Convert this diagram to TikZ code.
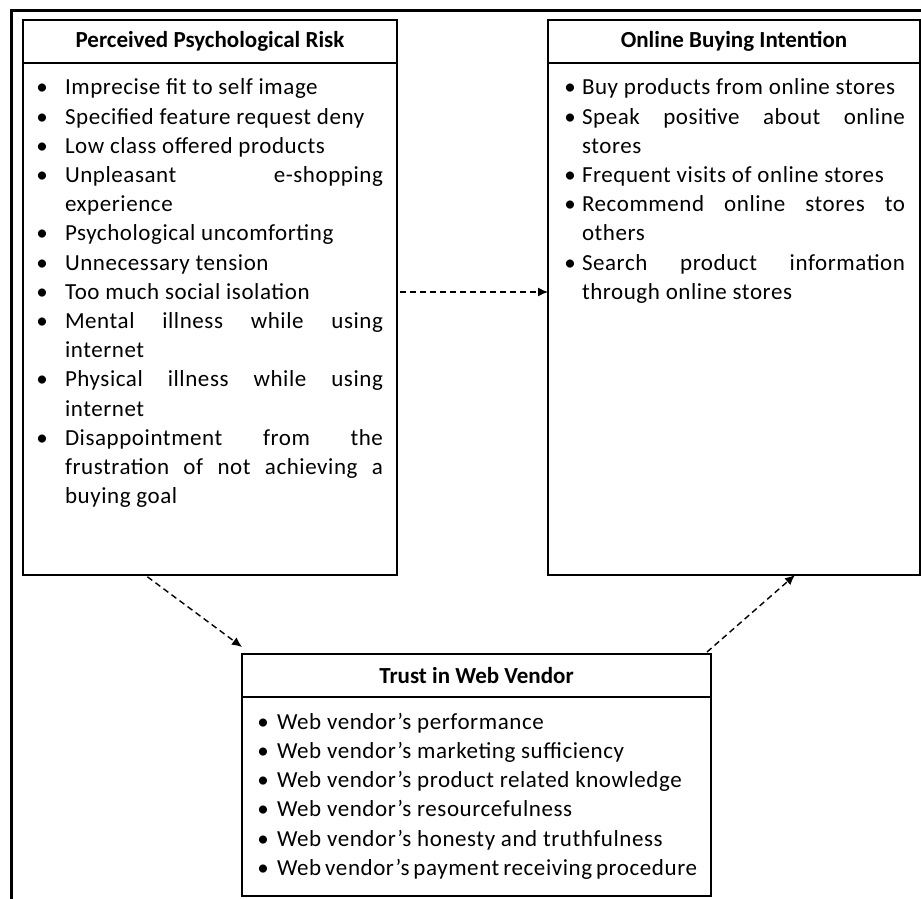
\documentclass[tikz,border=0pt]{standalone}
\usepackage{fontspec}
\setmainfont{Carlito}
\usetikzlibrary{arrows.meta,positioning}

% list with the bullet centred #2 before the text
\newenvironment{dotlist}[2]{\begin{list}{\hbox to 0pt{\hss\textbullet\hss}}{%
  \setlength{\leftmargin}{#1}\setlength{\labelsep}{#2}%
  \setlength{\labelwidth}{\dimexpr#1-#2\relax}\setlength{\itemindent}{0pt}%
  \setlength{\itemsep}{0pt}\setlength{\parsep}{0pt}\setlength{\topsep}{0pt}%
  \setlength{\partopsep}{0pt}\setlength{\rightmargin}{0pt}}}{\end{list}}
% body of a box: width, height, list items
\newcommand{\boxtext}[3]{\parbox[c][#2][t]{#1}{\addfontfeature{LetterSpace=2.5}%
  \hyphenpenalty=10000 \exhyphenpenalty=10000
  \tolerance=10000 \vspace*{8pt}#3}}

\begin{document}
\begin{tikzpicture}[x=0.5pt,y=-0.5pt,
  txt/.style={font=\fontsize{11.5}{14.6}\selectfont},
  head/.style={txt,draw,line width=0.9pt,outer sep=0pt,font=\fontsize{11.5}{14.6}\selectfont\bfseries,
    minimum height=21.5pt,inner sep=0pt},
  body/.style={txt,draw,line width=0.9pt,outer sep=0pt,inner ysep=0pt},
  flow/.style={dashed,dash pattern=on 3pt off 2pt,line width=0.7pt,-{Latex[length=5pt,width=4.5pt]}}]
\useasboundingbox (0,0) rectangle (921,899);
\draw[line width=1.5pt] (11,899) -- (11,11) -- (921,11);

\node[head,minimum width=187pt,anchor=north west] at (23,20) (riskhead) {Perceived Psychological Risk};
\node[body,inner xsep=7pt,below=0pt of riskhead] (risk) {\boxtext{173pt}{256pt}{%
  \begin{dotlist}{14pt}{11.5pt}
  \item Imprecise fit to self image
  \item Specified feature request deny
  \item Low class offered products
  \item Unpleasant e-shopping experience
  \item Psychological uncomforting
  \item Unnecessary tension
  \item Too much social isolation
  \item Mental illness while using internet
  \item Physical illness while using internet
  \item Disappointment from the\linebreak frustration of not achieving a buying goal
  \end{dotlist}}};

\node[head,minimum width=186pt,anchor=north west] at (548,20) (intenthead) {Online Buying Intention};
\node[body,inner xsep=7.5pt,below=0pt of intenthead] (intent) {\boxtext{171pt}{256pt}{%
  \begin{dotlist}{9.5pt}{6pt}
  \item Buy products from online stores
  \item Speak positive about online stores
  \item Frequent visits of online stores
  \item Recommend online stores to others
  \item Search product information through online stores
  \end{dotlist}}};

\node[head,minimum width=234.5pt,anchor=north west] at (242,654) (trusthead) {Trust in Web Vendor};
\node[body,inner xsep=7pt,below=0pt of trusthead] (trust) {\boxtext{220.5pt}{99.5pt}{%
  \begin{dotlist}{10.5pt}{7pt}
  \item Web vendor's performance
  \item Web vendor's marketing sufficiency
  \item Web vendor's product related knowledge
  \item Web vendor's resourcefulness
  \item Web vendor's honesty and truthfulness
  \item Web vendor's payment receiving procedure
  \end{dotlist}}};

\draw[flow,shorten <=1.5pt] ([yshift=13.5pt]risk.east) -- ([yshift=13.5pt]intent.west);
\draw[flow,shorten <=1.5pt] ([xshift=61pt]risk.south west) -- ([yshift=3.5pt]trusthead.north west);
\draw[flow] ([xshift=-2pt,yshift=1pt]trusthead.north east) -- ([xshift=123.5pt]intent.south west);
\end{tikzpicture}
\end{document}
